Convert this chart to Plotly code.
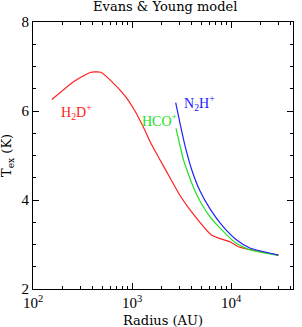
import plotly.graph_objects as go

h2d_r = [155, 257, 372, 423, 483, 600, 849, 1072, 1300, 1581, 1919, 2421, 3055, 3855, 6383, 9772, 11858, 30061]
h2d_t = [6.26, 6.66, 6.86, 6.88, 6.87, 6.70, 6.34, 6.00, 5.64, 5.24, 4.90, 4.50, 4.10, 3.78, 3.21, 3.06, 2.95, 2.76]

hco_r = [2780, 3055, 3311, 3573, 3981, 4335, 5012, 6138, 8054, 11402, 15488, 30061]
hco_t = [5.61, 5.22, 4.90, 4.68, 4.40, 4.20, 3.92, 3.62, 3.33, 3.02, 2.88, 2.76]

n2h_r = [2761, 3055, 3428, 4009, 4864, 6138, 8318, 11402, 15488, 30061]
n2h_t = [6.19, 5.72, 5.22, 4.68, 4.20, 3.80, 3.40, 3.10, 2.92, 2.76]

x_major = [100, 1000, 10000]
x_major_text = ["10<sup>2</sup>", "10<sup>3</sup>", "10<sup>4</sup>"]
x_minor = [m * d for d in [100, 1000, 10000] for m in range(2, 10)]
y_major = [2, 4, 6, 8]
y_minor = [2.5, 3, 3.5, 4.5, 5, 5.5, 6.5, 7, 7.5]

FONT = "Liberation Serif"
WIDE = "DejaVu Serif"

fig = go.Figure()
fig.add_trace(go.Scatter(x=h2d_r, y=h2d_t, mode="lines", line=dict(color="#ff2020", width=1.2, shape="spline", smoothing=0.5), showlegend=False))
fig.add_trace(go.Scatter(x=hco_r, y=hco_t, mode="lines", line=dict(color="#20e020", width=1.2, shape="spline", smoothing=0.5), showlegend=False))
fig.add_trace(go.Scatter(x=n2h_r, y=n2h_t, mode="lines", line=dict(color="#2020ff", width=1.2, shape="spline", smoothing=0.5), showlegend=False))

fig.add_annotation(x=2.444, y=5.98, xref="x", yref="y", text="H<sub>2</sub>D<sup>+</sup>",
                   showarrow=False, font=dict(family=FONT, size=14, color="#ff2020"))
fig.add_annotation(x=3.283, y=5.80, xref="x", yref="y", text="HCO<sup>+</sup>",
                   showarrow=False, font=dict(family=FONT, size=14, color="#20e020"))
fig.add_annotation(x=3.68, y=6.18, xref="x", yref="y", text="N<sub>2</sub>H<sup>+</sup>",
                   showarrow=False, font=dict(family=FONT, size=14, color="#2020ff"))

# axis titles
fig.add_annotation(x=0.5, y=0, xref="paper", yref="paper", yanchor="top", yshift=-22, text="Radius (AU)",
                   showarrow=False, font=dict(family=WIDE, size=13, color="black"))
fig.add_annotation(x=0, y=0.5, xref="paper", yref="paper", xanchor="right", xshift=-15,
                   text="T<sub>ex</sub> (K)", textangle=-90,
                   showarrow=False, font=dict(family=WIDE, size=13, color="black"))

axis_common = dict(showline=True, linecolor="black", linewidth=1, mirror="ticks", ticks="inside",
                   tickcolor="black", ticklen=6, showgrid=False, zeroline=False, automargin=False,
                   tickfont=dict(family=FONT, size=15, color="black"))

fig.update_xaxes(type="log", range=[2, 4.626], tickvals=x_major, ticktext=x_major_text,
                 minor=dict(tickvals=x_minor, ticks="inside", ticklen=3, tickcolor="black", showgrid=False),
                 **axis_common)
fig.update_yaxes(range=[2, 8], tickvals=y_major,
                 minor=dict(tickvals=y_minor, ticks="inside", ticklen=3, tickcolor="black", showgrid=False),
                 **axis_common)

fig.update_layout(width=302, height=327, margin=dict(l=33, r=9, t=22, b=38),
                  paper_bgcolor="white", plot_bgcolor="white",
                  title=dict(text="Evans & Young model", x=0.547, xanchor="center", y=0.995, yanchor="top",
                             font=dict(family=WIDE, size=13, color="black")))

fig.write_html("out.html", config={"displayModeBar": False},
               post_script="document.body.style.margin='0';document.body.style.overflow='hidden';")
